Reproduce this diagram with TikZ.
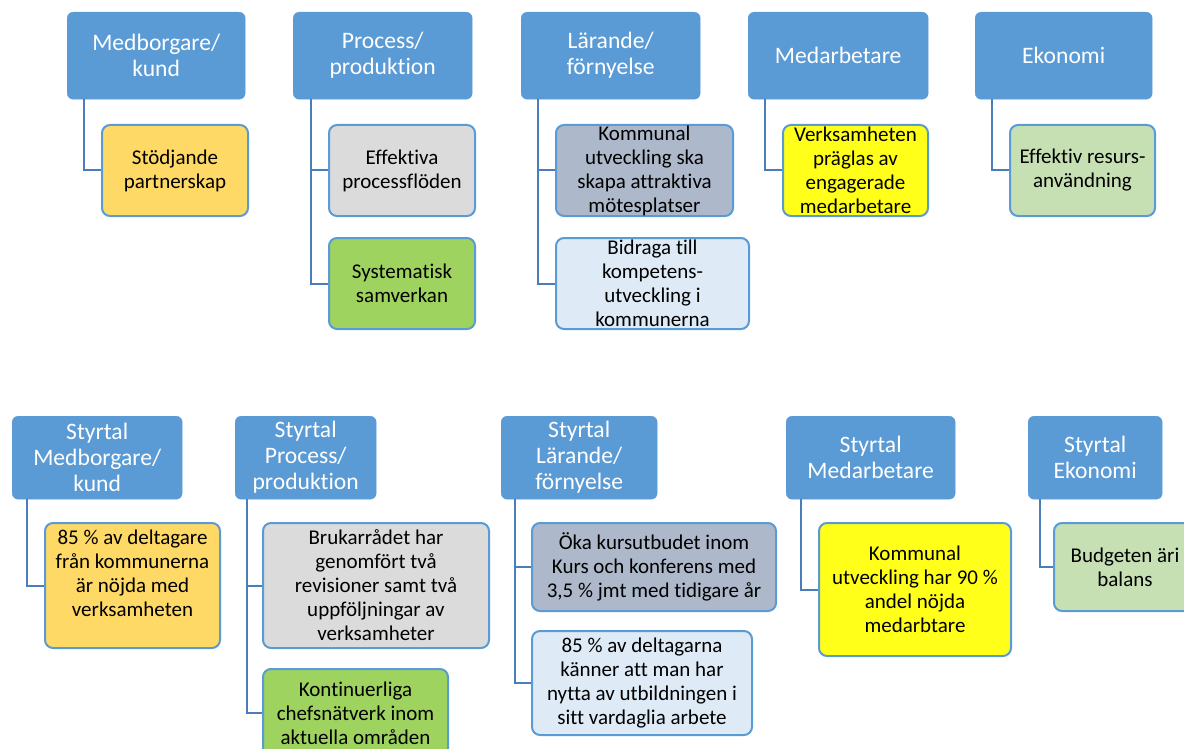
\documentclass[tikz,border=0pt]{standalone}
\usepackage{fontspec}
\setmainfont[Ligatures=NoCommon]{Carlito}
\usepackage{tikz}

\definecolor{hdrblue}{HTML}{5B9BD5}
\definecolor{linkblue}{HTML}{4A7EBB}
\definecolor{goldfill}{HTML}{FFD966}
\definecolor{grayfill}{HTML}{DBDBDB}
\definecolor{greenfill}{HTML}{9ED35F}
\definecolor{slatefill}{HTML}{ADB9CA}
\definecolor{skyfill}{HTML}{DEEBF7}
\definecolor{yellowfill}{HTML}{FFFF1A}
\definecolor{mintfill}{HTML}{C6E0B4}

\begin{document}
\begin{tikzpicture}[x=1pt, y=-1pt,
    head/.style={rectangle, rounded corners=6pt, fill=hdrblue, draw=hdrblue,
      text=white, align=center, anchor=north west, inner sep=0pt,
      font=\fontsize{23.6}{26}\selectfont},
    goal/.style={rectangle, rounded corners=8pt, fill=#1, draw=hdrblue,
      line width=2pt, align=center, anchor=north west, inner sep=0pt,
      font=\fontsize{21}{24}\selectfont},
    link/.style={draw=linkblue, line width=2pt},
    sz/.style 2 args={minimum width=#1pt, minimum height=#2pt}]
  \useasboundingbox (0,0) rectangle (1184,749);
  \clip (0,0) rectangle (1184,749);

  % perspektiv
  \node[head, sz={178}{87}] (medb) at (67,12) {Medborgare/\\kund};
  \node[head, sz={179}{87}] (proc) at (293,12) {Process/\\produktion};
  \node[head, sz={179}{87}] (lar) at (521,12) {Lärande/\\förnyelse};
  \node[head, sz={180}{87}] (meda) at (748,12) {Medarbetare};
  \node[head, sz={177}{87}] (eko) at (975,12) {Ekonomi};

  % mål
  \node[goal=goldfill, sz={146}{91}] (stod) at (101,124) {Stödjande\\partnerskap};
  \node[goal=grayfill, sz={146}{91}] (eff) at (328,124) {Effektiva\\processflöden};
  \node[goal=greenfill, sz={146}{91}] (sys) at (328,237) {Systematisk\\samverkan};
  \node[goal=slatefill, sz={177}{91}] (mot) at (555,124)
    {Kommunal\\utveckling ska\\skapa attraktiva\\mötesplatser};
  \node[goal=skyfill, sz={193}{91}] (komp) at (555,237)
    {Bidraga till\\kompetens-\\utveckling i\\kommunerna};
  \node[goal=yellowfill, sz={145}{91}] (eng) at (782,124)
    {Verksamheten\\präglas av\\engagerade\\medarbetare};
  \node[goal=mintfill, sz={145}{91}] (res) at (1009,124) {Effektiv resurs-\\användning};

  \draw[link] ([xshift=17pt]medb.south west) |- (stod.west);
  \draw[link] ([xshift=18pt]proc.south west) |- (eff.west);
  \draw[link] ([xshift=18pt]proc.south west) |- (sys.west);
  \draw[link] ([xshift=17pt]lar.south west) |- (mot.west);
  \draw[link] ([xshift=17pt]lar.south west) |- (komp.west);
  \draw[link] ([xshift=17pt]meda.south west) |- (eng.west);
  \draw[link] ([xshift=17pt]eko.south west) |- (res.west);

  % styrtal
  \node[head, sz={170}{83}] (smedb) at (12,416) {Styrtal\\Medborgare/\\kund};
  \node[head, sz={141}{83}] (sproc) at (235,416) {Styrtal\\Process/\\produktion};
  \node[head, sz={156}{83}] (slar) at (501,416) {Styrtal\\Lärande/\\förnyelse};
  \node[head, sz={169}{83}] (smeda) at (786,416) {Styrtal\\Medarbetare};
  \node[head, sz={134}{83}] (seko) at (1028,416) {Styrtal\\Ekonomi};

  \node[goal=goldfill, sz={175}{125}] (nojd) at (44,522)
    {85 \% av deltagare\\från kommunerna\\är nöjda med\\verksamheten\\~};
  \node[goal=grayfill, sz={226}{125}] (bruk) at (262,522)
    {Brukarrådet har\\genomfört två\\revisioner samt två\\uppföljningar av\\verksamheter};
  \node[goal=greenfill, sz={185}{88}] (chef) at (262,668)
    {Kontinuerliga\\chefsnätverk inom\\aktuella områden};
  \node[goal=slatefill, sz={244}{88}] (kurs) at (531,522)
    {Öka kursutbudet inom\\Kurs och konferens med\\3,5 \% jmt med tidigare år};
  \node[goal=skyfill, sz={220}{104}] (nytta) at (531,630)
    {85 \% av deltagarna\\känner att man har\\nytta av utbildningen i\\sitt vardaglia arbete};
  \node[goal=yellowfill, sz={192}{133}] (andel) at (818,522)
    {Kommunal\\utveckling har 90 \%\\andel nöjda\\medarbtare};
  \node[goal=mintfill, sz={142}{88}] (budg) at (1053,522) {Budgeten äri\\balans};

  \draw[link] ([xshift=15pt]smedb.south west) |- (nojd.west);
  \draw[link] ([xshift=12pt]sproc.south west) |- (bruk.west);
  \draw[link] ([xshift=12pt]sproc.south west) |- (chef.west);
  \draw[link] ([xshift=14pt]slar.south west) |- (kurs.west);
  \draw[link] ([xshift=14pt]slar.south west) |- (nytta.west);
  \draw[link] ([xshift=15pt]smeda.south west) |- (andel.west);
  \draw[link] ([xshift=12pt]seko.south west) |- (budg.west);
\end{tikzpicture}
\end{document}
